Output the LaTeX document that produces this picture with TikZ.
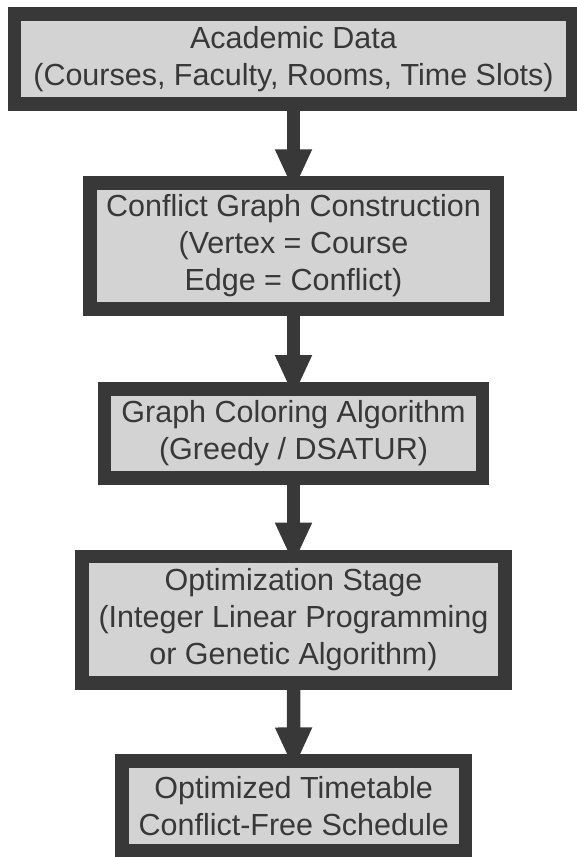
\documentclass[tikz,border=0pt]{standalone}
\usepackage{fontspec}
\setmainfont{Liberation Sans}
\usetikzlibrary{arrows.meta}
\definecolor{edgegray}{HTML}{383838}
\definecolor{boxfill}{HTML}{D3D3D3}
\tikzset{
  stagebox/.style={draw=edgegray, fill=boxfill, line width=13.5pt, rectangle,
    inner sep=0pt, align=center, text=edgegray,
    font=\fontsize{30.5pt}{37pt}\selectfont},
  flowarrow/.style={draw=edgegray, line width=13.5pt,
    -{Triangle[width=34pt,length=42pt]}}
}
\begin{document}
\begin{tikzpicture}[x=1pt,y=-1pt]
\useasboundingbox (0,0) rectangle (577,857);
\node[stagebox, minimum width=558pt, minimum height=90pt] (b1) at (293.5,59)
  {Academic Data\\(Courses, Faculty, Rooms, Time Slots)};
\node[stagebox, minimum width=407pt, minimum height=126pt] (b2) at (293.5,246)
  {Conflict Graph Construction\\(Vertex = Course\\Edge = Conflict)};
\node[stagebox, minimum width=377.6pt, minimum height=89.3pt] (b3) at (293.5,433.4)
  {Graph Coloring Algorithm\\(Greedy / DSATUR)};
\node[stagebox, minimum width=423pt, minimum height=126.7pt] (b4) at (293.5,619.7)
  {Optimization Stage\\(Integer Linear Programming\\or Genetic Algorithm)};
\node[stagebox, minimum width=343.3pt, minimum height=90pt] (b5) at (293.7,806.2)
  {Optimized Timetable\\Conflict-Free Schedule};
\draw[flowarrow] (b1.south) -- ([yshift=-15pt]b2.north);
\draw[flowarrow] (b2.south) -- ([yshift=-15pt]b3.north);
\draw[flowarrow] (b3.south) -- ([yshift=-15pt]b4.north);
\draw[flowarrow] (b4.south) -- ([yshift=-15pt]b5.north);
\end{tikzpicture}
\end{document}
